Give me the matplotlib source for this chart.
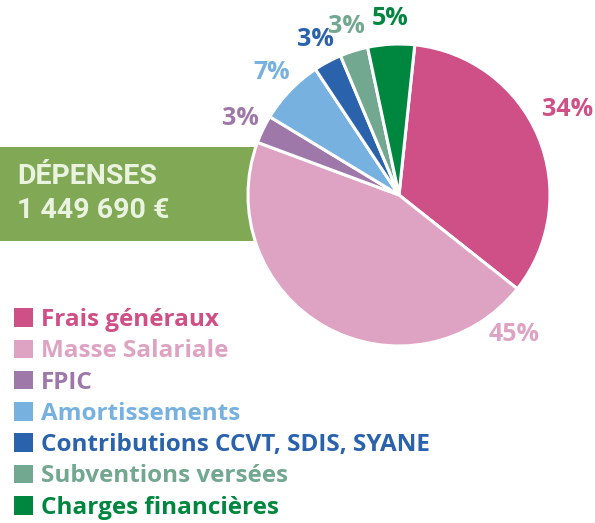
import matplotlib
matplotlib.use('Agg')
import matplotlib.pyplot as plt
from matplotlib.patches import Rectangle
import numpy as np

# data
categories = ['Frais généraux', 'Masse Salariale', 'FPIC', 'Amortissements',
              'Contributions CCVT, SDIS, SYANE', 'Subventions versées',
              'Charges financières']
shares = [34, 45, 3, 7, 3, 3, 5]
colors = ['#cf4f87', '#dea3c2', '#9e78a8', '#76b1e0', '#2a62ab', '#72a890', '#00873f']
title_lines = ['DÉPENSES', '1 449 690 €']

W, H = 595, 523
fig = plt.figure(figsize=(W / 100, H / 100), dpi=100)

# background layer in pixel coordinates
bg = fig.add_axes([0, 0, 1, 1])
bg.set_xlim(0, W)
bg.set_ylim(H, 0)
bg.axis('off')
bg.add_patch(Rectangle((0, 147), 256, 94, color='#80a855', lw=0))
bg.text(17, 177, title_lines[0], color='#eaf3e0', fontsize=20.5, fontweight='bold',
        family='Roboto', va='center', ha='left')
bg.text(17, 210, title_lines[1], color='#eaf3e0', fontsize=20.5, fontweight='bold',
        family='Roboto', va='center', ha='left')

# pie
cx, cy, r = 399, 195, 151
ax = fig.add_axes([(cx - r) / W, 1 - (cy + r) / H, 2 * r / W, 2 * r / H])
wedges, _ = ax.pie(shares, colors=colors, startangle=84, counterclock=False,
                   wedgeprops=dict(edgecolor='white', linewidth=2.2))
ax.set_xlim(-1, 1)
ax.set_ylim(-1, 1)
ax.set_aspect('auto')

# percentage labels
for i, (w, v) in enumerate(zip(wedges, shares)):
    ang = (w.theta1 + w.theta2) / 2
    dist = 1.17
    if i == 0:
        ang += 4
        dist = 1.25
    if i == 1:
        ang = w.theta2 - 12
        dist = 1.2
    x = dist * np.cos(np.radians(ang))
    y = dist * np.sin(np.radians(ang))
    ax.text(x, y, f'{v}%', color=colors[i], fontsize=18, fontweight='bold',
            family='Open Sans', ha='center', va='center', clip_on=False)

# legend
leg = fig.legend(wedges, categories, loc='upper left',
                 bbox_to_anchor=(14 / W, 1 - 308 / H), bbox_transform=fig.transFigure,
                 frameon=False, borderpad=0, borderaxespad=0,
                 handlelength=0.8, handleheight=0.8, handletextpad=0.3,
                 labelspacing=0.3, prop=dict(family='Open Sans', weight='bold', size=17.5))
for t, c in zip(leg.get_texts(), colors):
    t.set_color(c)
for h in leg.legend_handles:
    h.set_edgecolor('none')

fig.savefig('out.png', dpi=100)
